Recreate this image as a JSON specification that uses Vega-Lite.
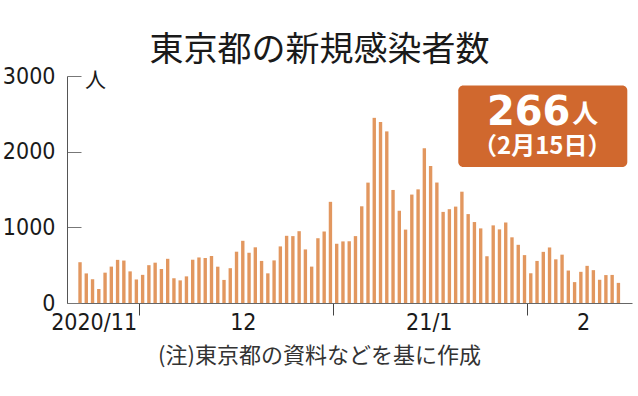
{
  "$schema": "https://vega.github.io/schema/vega-lite/v6.json",
  "width": 565,
  "height": 227,
  "autosize": {"type": "none"},
  "padding": {"left": 67, "top": 76, "right": 6, "bottom": 93},
  "background": "white",
  "config": {"view": {"stroke": null}},
  "title": {
    "text": "東京都の新規感染者数",
    "font": "Noto Sans CJK JP",
    "fontSize": 34,
    "fontWeight": 400,
    "color": "#1a1a1a",
    "anchor": "middle",
    "dx": -30,
    "offset": -3
  },
  "layer": [
    {
      "data": {
        "values": [
          {"date": "2020-11-21", "cases": 539}, {"date": "2020-11-22", "cases": 391}, {"date": "2020-11-23", "cases": 314}, {"date": "2020-11-24", "cases": 186}, {"date": "2020-11-25", "cases": 401}, {"date": "2020-11-26", "cases": 481}, {"date": "2020-11-27", "cases": 570}, {"date": "2020-11-28", "cases": 561}, {"date": "2020-11-29", "cases": 418}, {"date": "2020-11-30", "cases": 311},
          {"date": "2020-12-01", "cases": 372}, {"date": "2020-12-02", "cases": 500}, {"date": "2020-12-03", "cases": 533}, {"date": "2020-12-04", "cases": 449}, {"date": "2020-12-05", "cases": 584}, {"date": "2020-12-06", "cases": 327}, {"date": "2020-12-07", "cases": 299}, {"date": "2020-12-08", "cases": 352}, {"date": "2020-12-09", "cases": 572}, {"date": "2020-12-10", "cases": 602},
          {"date": "2020-12-11", "cases": 595}, {"date": "2020-12-12", "cases": 621}, {"date": "2020-12-13", "cases": 480}, {"date": "2020-12-14", "cases": 305}, {"date": "2020-12-15", "cases": 460}, {"date": "2020-12-16", "cases": 678}, {"date": "2020-12-17", "cases": 822}, {"date": "2020-12-18", "cases": 664}, {"date": "2020-12-19", "cases": 736}, {"date": "2020-12-20", "cases": 556},
          {"date": "2020-12-21", "cases": 392}, {"date": "2020-12-22", "cases": 563}, {"date": "2020-12-23", "cases": 748}, {"date": "2020-12-24", "cases": 888}, {"date": "2020-12-25", "cases": 884}, {"date": "2020-12-26", "cases": 949}, {"date": "2020-12-27", "cases": 708}, {"date": "2020-12-28", "cases": 481}, {"date": "2020-12-29", "cases": 856}, {"date": "2020-12-30", "cases": 944},
          {"date": "2020-12-31", "cases": 1337},
          {"date": "2021-01-01", "cases": 783}, {"date": "2021-01-02", "cases": 814}, {"date": "2021-01-03", "cases": 816}, {"date": "2021-01-04", "cases": 884}, {"date": "2021-01-05", "cases": 1278}, {"date": "2021-01-06", "cases": 1591}, {"date": "2021-01-07", "cases": 2447}, {"date": "2021-01-08", "cases": 2392}, {"date": "2021-01-09", "cases": 2268}, {"date": "2021-01-10", "cases": 1494},
          {"date": "2021-01-11", "cases": 1219}, {"date": "2021-01-12", "cases": 970}, {"date": "2021-01-13", "cases": 1433}, {"date": "2021-01-14", "cases": 1502}, {"date": "2021-01-15", "cases": 2044}, {"date": "2021-01-16", "cases": 1809}, {"date": "2021-01-17", "cases": 1592}, {"date": "2021-01-18", "cases": 1204}, {"date": "2021-01-19", "cases": 1240}, {"date": "2021-01-20", "cases": 1274},
          {"date": "2021-01-21", "cases": 1471}, {"date": "2021-01-22", "cases": 1175}, {"date": "2021-01-23", "cases": 1070}, {"date": "2021-01-24", "cases": 986}, {"date": "2021-01-25", "cases": 618}, {"date": "2021-01-26", "cases": 1026}, {"date": "2021-01-27", "cases": 973}, {"date": "2021-01-28", "cases": 1064}, {"date": "2021-01-29", "cases": 868}, {"date": "2021-01-30", "cases": 769},
          {"date": "2021-01-31", "cases": 633},
          {"date": "2021-02-01", "cases": 393}, {"date": "2021-02-02", "cases": 556}, {"date": "2021-02-03", "cases": 676}, {"date": "2021-02-04", "cases": 734}, {"date": "2021-02-05", "cases": 577}, {"date": "2021-02-06", "cases": 639}, {"date": "2021-02-07", "cases": 429}, {"date": "2021-02-08", "cases": 276}, {"date": "2021-02-09", "cases": 412}, {"date": "2021-02-10", "cases": 491},
          {"date": "2021-02-11", "cases": 434}, {"date": "2021-02-12", "cases": 307}, {"date": "2021-02-13", "cases": 369}, {"date": "2021-02-14", "cases": 371}, {"date": "2021-02-15", "cases": 266}
        ]
      },
      "mark": {"type": "bar", "width": {"band": 0.7}},
      "encoding": {
        "x": {
          "field": "date",
          "timeUnit": "utcyearmonthdate",
          "type": "temporal",
          "scale": {
            "type": "utc",
            "domain": [
              {"year": 2020, "month": 11, "date": 19, "hours": 12, "utc": true},
              {"year": 2021, "month": 2, "date": 17, "hours": 18, "utc": true}
            ]
          },
          "axis": {
            "values": [
              {"year": 2020, "month": 11, "date": 23, "hours": 18, "utc": true},
              {"year": 2020, "month": 12, "date": 1, "utc": true},
              {"year": 2020, "month": 12, "date": 17, "hours": 14, "utc": true},
              {"year": 2021, "month": 1, "date": 1, "utc": true},
              {"year": 2021, "month": 1, "date": 16, "hours": 7, "utc": true},
              {"year": 2021, "month": 2, "date": 1, "utc": true},
              {"year": 2021, "month": 2, "date": 9, "hours": 22, "utc": true}
            ],
            "labelExpr": "utcdate(datum.value) == 1 && utchours(datum.value) == 0 ? '' : (utcmonth(datum.value) == 10 ? '2020/11' : utcmonth(datum.value) == 11 ? '12' : utcmonth(datum.value) == 0 ? '21/1' : '2')",
            "tickOpacity": {"condition": {"test": "utcdate(datum.value) == 1 && utchours(datum.value) == 0", "value": 1}, "value": 0},
            "tickSize": 12,
            "tickColor": "#444",
            "domainColor": "#666",
            "labelFont": "DejaVu Sans Condensed, Liberation Sans",
            "labelFontSize": 23,
            "labelColor": "#1a1a1a",
            "labelPadding": -4,
            "labelOverlap": false,
            "labelFlush": false,
            "grid": false,
            "title": "(注)東京都の資料などを基に作成",
            "titleFont": "Noto Sans CJK JP",
            "titleFontSize": 22,
            "titleFontWeight": 400,
            "titleColor": "#333",
            "titleX": 252,
            "titleY": 52,
            "titleAlign": "center",
            "titleBaseline": "middle"
          }
        },
        "y": {
          "field": "cases",
          "type": "quantitative",
          "scale": {"domain": [0, 3000], "nice": false},
          "axis": {
            "values": [0, 1000, 2000, 3000],
            "format": "d",
            "tickSize": -14,
            "tickColor": "#777",
            "domainColor": "#555",
            "labelFont": "DejaVu Sans Condensed, Liberation Sans",
            "labelFontSize": 23,
            "labelColor": "#1a1a1a",
            "labelPadding": 26,
            "grid": false,
            "title": null
          }
        },
        "color": {
          "condition": {"test": "datum.date === '2021-02-15'", "value": "#CF6327"},
          "value": "#E2975F"
        }
      }
    },
    {
      "data": {"values": [{}]},
      "mark": {"type": "text", "align": "left", "baseline": "middle", "font": "Noto Sans CJK JP", "fontSize": 21, "fontWeight": "normal", "color": "#1a1a1a", "text": "人"},
      "encoding": {
        "x": {"datum": {"year": 2020, "month": 11, "date": 22, "hours": 9, "utc": true}, "type": "temporal"},
        "y": {"datum": 2937, "type": "quantitative"}
      }
    },
    {
      "data": {"values": [{}]},
      "mark": {"type": "rect", "color": "#D0682E", "cornerRadius": 5},
      "encoding": {
        "x": {"datum": {"year": 2021, "month": 1, "date": 21, "utc": true}, "type": "temporal"},
        "x2": {"datum": {"year": 2021, "month": 2, "date": 17, "utc": true}},
        "y": {"datum": 2876, "type": "quantitative"},
        "y2": {"datum": 1796}
      }
    },
    {
      "data": {"values": [{}]},
      "mark": {"type": "text", "align": "right", "baseline": "alphabetic", "font": "DejaVu Sans", "fontSize": 40, "fontWeight": "bold", "color": "white", "text": "266"},
      "encoding": {
        "x": {"datum": {"year": 2021, "month": 2, "date": 7, "hours": 22, "utc": true}, "type": "temporal"},
        "y": {"datum": 2350, "type": "quantitative"}
      }
    },
    {
      "data": {"values": [{}]},
      "mark": {"type": "text", "align": "left", "baseline": "alphabetic", "font": "Noto Sans CJK JP", "fontSize": 26, "fontWeight": "bold", "color": "white", "text": "人"},
      "encoding": {
        "x": {"datum": {"year": 2021, "month": 2, "date": 8, "hours": 5, "utc": true}, "type": "temporal"},
        "y": {"datum": 2380, "type": "quantitative"}
      }
    },
    {
      "data": {"values": [{}]},
      "mark": {"type": "text", "align": "center", "baseline": "middle", "font": "Noto Sans CJK JP", "fontSize": 24, "fontWeight": "bold", "color": "white", "text": "（2月15日）"},
      "encoding": {
        "x": {"datum": {"year": 2021, "month": 2, "date": 3, "hours": 10, "utc": true}, "type": "temporal"},
        "y": {"datum": 2060, "type": "quantitative"}
      }
    }
  ]
}
